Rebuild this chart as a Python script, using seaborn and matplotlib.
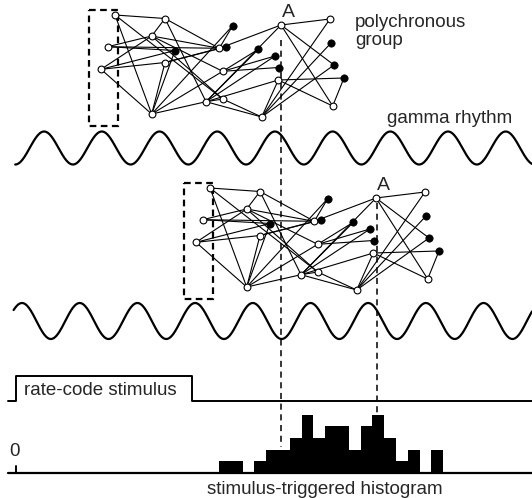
import numpy as np
import pandas as pd
import matplotlib
matplotlib.use("Agg")
import matplotlib.pyplot as plt
from matplotlib.collections import LineCollection
from matplotlib.patches import Rectangle
import seaborn as sns

# network nodes (first copy, pixel coords); second copy is shifted
node_x = [115, 165, 151.7, 107.7, 101, 165, 219.3, 222.7, 281, 330, 151.7, 206, 222.7, 261.7, 278.3, 332.7,
          232.7, 225.7, 175, 258.3, 275, 278.5, 330.7, 334, 344]
node_y = [15, 18.5, 36, 46.7, 69.3, 62.5, 48.3, 71.3, 25, 19, 114, 101.7, 99, 117, 80, 106,
          25.7, 47, 50.5, 49.3, 56, 67.5, 43.3, 65, 78]
node_filled = [False] * 16 + [True] * 9
edges = [(0, 1), (0, 10), (0, 12),
         (1, 2), (1, 6), (1, 11),
         (2, 3), (2, 4), (2, 6), (2, 7), (2, 12),
         (3, 18), (3, 6),
         (4, 5), (4, 18), (4, 10),
         (5, 10), (5, 6), (5, 17), (18, 10),
         (10, 7), (10, 16), (10, 11),
         (16, 6), (6, 8),
         (7, 19), (7, 20), (7, 21),
         (11, 19), (11, 20), (11, 14), (11, 13), (11, 8), (11, 12),
         (12, 13),
         (13, 14), (13, 22), (13, 23), (13, 9),
         (14, 24), (14, 15),
         (8, 9), (8, 15), (8, 23),
         (24, 15)]
second_shift = (95, 173)

# gamma rhythm
gamma_period = 57.7
wave1_peak, wave1_mid, wave1_amp = 44.1, 148, 16.5
wave2_peak, wave2_mid, wave2_amp = 22.0, 321, 18

# rate-code stimulus step
stim_x = [7.5, 16, 16, 191.7, 191.7, 532]
stim_y = [401.4, 401.4, 376, 376, 401.4, 401.4]

# stimulus-triggered histogram
hist_counts = [1, 1, 0, 1, 2, 2, 3, 5, 3, 4, 4, 2, 4, 5, 3, 1, 2, 0, 2]
hist_start, hist_bin = 219, 11.8
hist_base, hist_unit = 473, 11.7

sns.set_style("white")
plt.rcParams['font.family'] = ['Liberation Sans', 'DejaVu Sans']

fig = plt.figure(figsize=(5.32, 4.98), dpi=100)
ax = fig.add_axes([0, 0, 1, 1])

nodes = pd.DataFrame({'x': node_x, 'y': node_y, 'filled': node_filled})
for dx, dy in [(0, 0), second_shift]:
    segs = [[(node_x[a] + dx, node_y[a] + dy), (node_x[b] + dx, node_y[b] + dy)] for a, b in edges]
    ax.add_collection(LineCollection(segs, colors='black', linewidths=0.8, zorder=2))
    d = nodes.assign(x=nodes.x + dx, y=nodes.y + dy)
    sns.scatterplot(data=d[~d.filled], x='x', y='y', ax=ax, s=24, color='white',
                    edgecolor='black', linewidth=0.8, zorder=3, legend=False)
    sns.scatterplot(data=d[d.filled], x='x', y='y', ax=ax, s=28, color='black',
                    edgecolor='black', linewidth=0.5, zorder=3, legend=False)
    ax.add_patch(Rectangle((89.3 + dx, 10 + dy), 28.4, 115.7, fill=False, lw=1.6,
                           ls=(0, (3, 2)), ec='black', zorder=1))
    ax.text(288.3 + dx, 12 + dy, 'A', fontsize=14, ha='center', va='center')

ax.set_xlim(0, 532)
ax.set_ylim(498, 0)
ax.axis('off')

ax.text(355, 22, 'polychronous', fontsize=13.5, ha='left', va='center')
ax.text(355, 40, 'group', fontsize=13.5, ha='left', va='center')
ax.text(450, 118, 'gamma rhythm', fontsize=13.5, ha='center', va='center')

# waves
xw1 = np.linspace(15.2, 532, 900)
ax.plot(xw1, wave1_mid - wave1_amp * np.cos(2 * np.pi * (xw1 - wave1_peak) / gamma_period),
        color='black', lw=1.6)
xw2 = np.linspace(13.6, 532, 900)
ax.plot(xw2, wave2_mid - wave2_amp * np.cos(2 * np.pi * (xw2 - wave2_peak) / gamma_period),
        color='black', lw=1.6)

# dashed markers
ax.plot([281, 281], [40, 447], color='black', lw=1.1, ls=(0, (4, 3)))
ax.plot([377, 377], [203, 413], color='black', lw=1.1, ls=(0, (4, 3)))

# stimulus
ax.plot(stim_x, stim_y, color='black', lw=1.4)
ax.text(24, 390, 'rate-code stimulus', fontsize=13.5, ha='left', va='center')

# histogram
lefts = hist_start + hist_bin * np.arange(len(hist_counts))
ax.bar(lefts, -np.array(hist_counts) * hist_unit, width=hist_bin, bottom=hist_base,
       align='edge', color='black', edgecolor='none')
ax.plot([7.5, 532], [hist_base, hist_base], color='black', lw=1.6)
ax.plot([16, 16], [hist_base, 466], color='black', lw=1.4)
ax.text(15, 451, '0', fontsize=13.5, ha='center', va='center')
ax.text(325, 489, 'stimulus-triggered histogram', fontsize=13.5, ha='center', va='center')

fig.savefig('out.png', dpi=100)
